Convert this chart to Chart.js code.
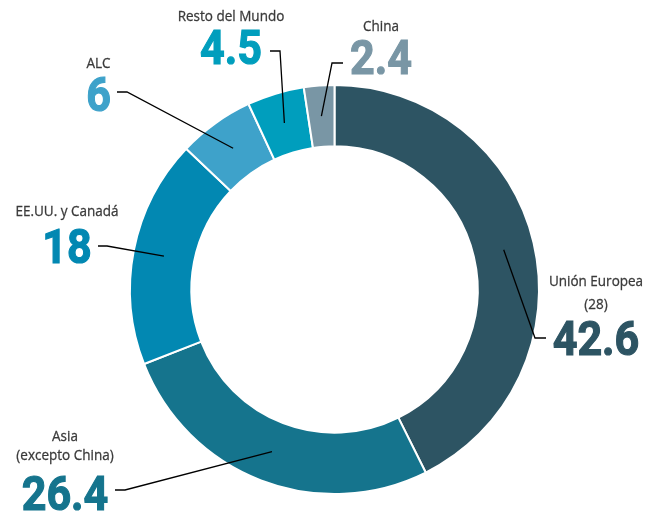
<!DOCTYPE html>
<html>
    <head>
        <script src="https://cdn.jsdelivr.net/npm/chart.js@4"></script>
        <style>
            body { margin: 0; background: #fff; }
            #wrap { width: 662px; height: 515px; position: relative; }
        </style>
    </head>
    <body>
        <div id="wrap">
            <canvas id="myChart"></canvas>
        </div>

        <script>
            // DATA
            const categories = ['Unión Europea (28)', 'Asia (excepto China)', 'EE.UU. y Canadá', 'ALC', 'Resto del Mundo', 'China'];
            const values = [42.6, 26.4, 18, 6, 4.5, 2.4];
            const valueLabels = ['42.6', '26.4', '18', '6', '4.5', '2.4'];
            const labelLines = [['Unión Europea', '(28)'], ['Asia', '(excepto China)'], ['EE.UU. y Canadá'], ['ALC'], ['Resto del Mundo'], ['China']];
            const colors = ['#2d5463', '#15748d', '#0288b2', '#3ea2ca', '#009ebd', '#7996a5'];

            // where each label block sits (centre x, text baselines, number baseline, leader elbow + tick end)
            const labelLayout = [
                { cx: 596, lines: [286, 309], num: 355, elbow: [535, 338], end: 546 },
                { cx: 65, lines: [441, 460], num: 510, elbow: [125, 490], end: 115 },
                { cx: 67, lines: [216], num: 263, elbow: [107, 246], end: 98 },
                { cx: 98.5, lines: [68], num: 111, elbow: [127, 92], end: 117 },
                { cx: 231, lines: [21], num: 64, elbow: [280, 51], end: 270 },
                { cx: 381, lines: [31], num: 74, elbow: [332, 63], end: 343 }
            ];

            function drawScaled(ctx, text, x, y, sx, thick) {
                ctx.save();
                ctx.translate(x, y);
                ctx.scale(sx, 1);
                ctx.fillText(text, 0, 0);
                if (thick) {
                    ctx.lineWidth = thick;
                    ctx.strokeText(text, 0, 0);
                }
                ctx.restore();
            }

            const calloutPlugin = {
                id: 'callouts',
                afterDraw(chart) {
                    const ctx = chart.ctx;
                    const arcs = chart.getDatasetMeta(0).data;
                    ctx.save();
                    arcs.forEach((arc, i) => {
                        const lay = labelLayout[i];
                        const p = arc.tooltipPosition();
                        // leader line
                        ctx.beginPath();
                        ctx.moveTo(p.x, p.y);
                        ctx.lineTo(lay.elbow[0], lay.elbow[1]);
                        ctx.lineTo(lay.end, lay.elbow[1]);
                        ctx.strokeStyle = '#000';
                        ctx.lineWidth = 1.3;
                        ctx.stroke();
                        // category text
                        ctx.textAlign = 'center';
                        ctx.textBaseline = 'alphabetic';
                        ctx.fillStyle = '#3a3a3a';
                        ctx.strokeStyle = '#3a3a3a';
                        ctx.font = '15px "Open Sans"';
                        labelLines[i].forEach((t, j) => drawScaled(ctx, t, lay.cx, lay.lines[j], 0.9, 0.3));
                        // big number
                        ctx.fillStyle = colors[i];
                        ctx.strokeStyle = colors[i];
                        ctx.font = 'bold 49px Roboto';
                        drawScaled(ctx, valueLabels[i], lay.cx, lay.num, 0.88, 1.2);
                    });
                    ctx.restore();
                }
            };

            const data = {
                labels: categories,
                datasets: [{
                    data: values,
                    backgroundColor: colors,
                    borderColor: '#ffffff',
                    borderWidth: 2
                }]
            };

            const config = {
                type: 'doughnut',
                data,
                options: {
                    responsive: true,
                    maintainAspectRatio: false,
                    animation: false,
                    cutout: '70%',
                    events: [],
                    layout: { padding: { left: 129, right: 122, top: 84, bottom: 20 } },
                    plugins: {
                        legend: { display: false },
                        tooltip: { enabled: false }
                    }
                },
                plugins: [calloutPlugin]
            };

            // RENDER
            const myChart = new Chart(document.getElementById('myChart'), config);
        </script>
    </body>
</html>
